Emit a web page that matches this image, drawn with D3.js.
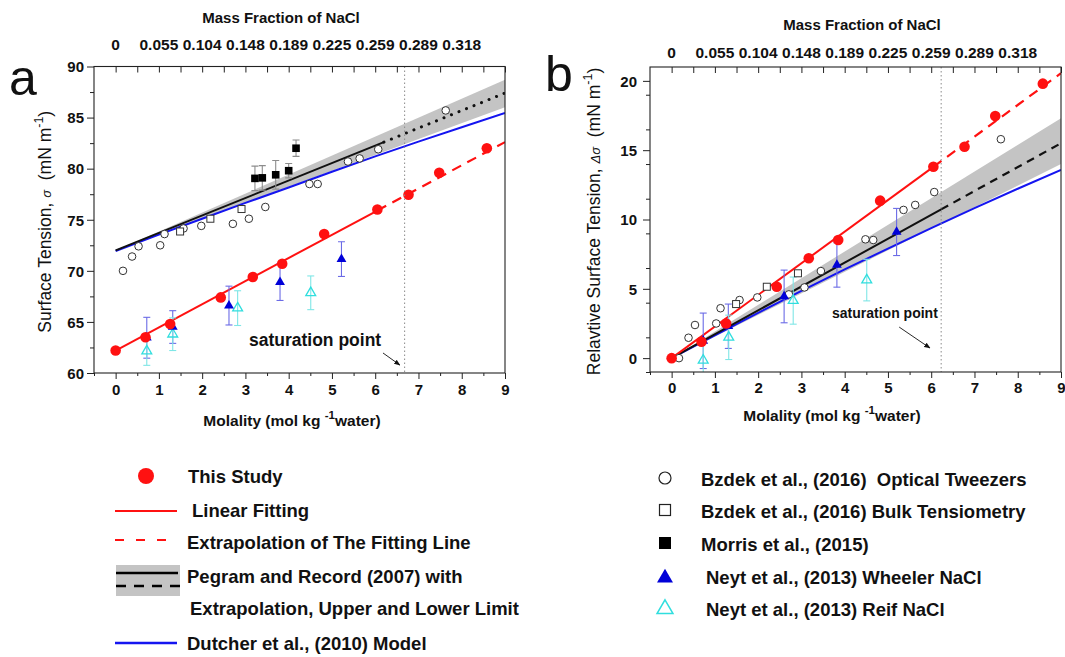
<!DOCTYPE html>
<html>
<head>
<meta charset="utf-8">
<script src="https://cdn.jsdelivr.net/npm/d3@7/dist/d3.min.js"></script>
<style>
  body { margin: 0; background: #fff; }
  text { font-family: "Liberation Sans", Arial, Helvetica, sans-serif; white-space: pre; }
</style>
</head>
<body>
<svg id="fig" width="1065" height="657"></svg>
<script>
// ---------- axis ticks ----------
const molalityTicks = [0, 1, 2, 3, 4, 5, 6, 7, 8, 9];
const massFractionAt = [0, 1, 2, 3, 4, 5, 6, 7, 8];
const massFractionLabels = ["0", "0.055", "0.104", "0.148", "0.189", "0.225", "0.259", "0.289", "0.318"];
const sigmaTicks = [60, 65, 70, 75, 80, 85, 90];
const deltaTicks = [0, 5, 10, 15, 20];

// ---------- This Study ----------
const studyMolality = [0, 0.69, 1.26, 2.43, 3.17, 3.85, 4.82, 6.05, 6.77, 7.48, 8.58];
const studySigma = [62.2, 63.5, 64.8, 67.4, 69.4, 70.7, 73.6, 76.0, 77.45, 79.6, 82.0];
const studyDelta = [0, 1.18, 2.5, 5.15, 7.2, 8.52, 11.36, 13.8, 15.25, 17.47, 19.8];

// linear fit (solid up to last measured point, dashed beyond)
const fitMolality = [0, 6.05, 9];
const fitSigma = [62.2, 75.9, 82.6];
const fitDelta = [0, 13.8, 20.55];

// ---------- Pegram and Record (2007) ----------
const pegramMolalityA = [0, 6.2, 9];
const pegramSigma = [72.0, 82.6, 87.4];
const pegramMolalityB = [0, 6.23, 9];
const pegramDelta = [0, 10.73, 15.5];
const pegramBandMolality = [0, 9];
const pegramSigmaUpper = [72.0, 88.7];
const pegramSigmaLower = [72.0, 86.0];
const pegramDeltaUpper = [0, 17.3];
const pegramDeltaLower = [0, 14.0];

// ---------- Dutcher et al. (2010) model ----------
const dutcherMolality = [0, 1, 2, 3, 4, 5, 6, 7, 8, 9];
const dutcherSigma = [71.94, 73.55, 75.1, 76.65, 78.15, 79.7, 81.2, 82.65, 84.05, 85.45];
const dutcherDelta = [0, 1.65, 3.27, 4.85, 6.4, 7.9, 9.38, 10.82, 12.22, 13.57];

// ---------- Bzdek et al. (2016) optical tweezers ----------
const bzdekOTMolalityA = [0.17, 0.38, 0.53, 1.03, 1.13, 1.57, 1.98, 2.71, 3.08, 3.46, 4.48, 4.67, 5.37, 5.64, 6.07, 7.63];
const bzdekOTSigma = [70.0, 71.4, 72.4, 72.5, 73.6, 74.15, 74.4, 74.6, 75.1, 76.25, 78.5, 78.5, 80.7, 81.0, 81.9, 85.7];
const bzdekOTMolalityB = [0.17, 0.39, 0.54, 1.03, 1.13, 1.57, 1.98, 2.71, 3.07, 3.45, 4.48, 4.66, 5.36, 5.63, 6.07, 7.61];
const bzdekOTDelta = [0, 1.47, 2.39, 2.5, 3.6, 4.19, 4.38, 4.6, 5.1, 6.28, 8.57, 8.52, 10.69, 11.05, 11.98, 15.79];

// ---------- Bzdek et al. (2016) bulk tensiometry ----------
const bzdekBulkMolalityA = [1.49, 2.19, 2.91];
const bzdekBulkSigma = [73.85, 75.1, 76.05];
const bzdekBulkMolalityB = [1.49, 2.2, 2.92];
const bzdekBulkDelta = [3.9, 5.15, 6.12];

// ---------- Morris et al. (2015) ----------
const morrisMolality = [3.22, 3.39, 3.70, 4.00, 4.17];
const morrisSigma = [79.05, 79.1, 79.4, 79.8, 82.0];
const morrisErr = [1.2, 1.2, 1.4, 0.7, 0.8];

// ---------- Neyt et al. (2013) Wheeler NaCl ----------
const wheelerMolalityA = [0.72, 1.32, 2.62, 3.80, 5.22];
const wheelerSigma = [63.45, 64.5, 66.6, 68.9, 71.15];
const wheelerErrA = [2.0, 1.6, 1.9, 1.8, 1.7];
const wheelerMolalityB = [0.73, 1.31, 2.6, 3.82, 5.2];
const wheelerDelta = [1.25, 2.3, 4.45, 6.72, 9.1];
const wheelerErrB = [2.0, 1.6, 1.9, 1.6, 1.7];

// ---------- Neyt et al. (2013) Reif NaCl ----------
const reifMolalityA = [0.72, 1.32, 2.82, 4.51];
const reifSigma = [62.15, 63.8, 66.35, 67.85];
const reifErrA = [1.4, 1.6, 1.7, 1.65];
const reifMolalityB = [0.73, 1.32, 2.81, 4.51];
const reifDelta = [-0.15, 1.5, 4.15, 5.63];
const reifErrB = [1.4, 1.6, 1.7, 1.5];

// ---------- colours ----------
const RED = "#ff1111", BLUE = "#1515f0", DARKBLUE = "#0000d8", CYAN = "#30dede";
const BAND = "#c4c4c4";

const zip = (xs, ys) => xs.map((v, i) => [v, ys[i]]);
const zip3 = (xs, ys, es) => xs.map((v, i) => [v, ys[i], es[i]]);

const svg = d3.select("#fig");

svg.append("defs").append("marker")
  .attr("id", "arrow").attr("viewBox", "0 0 10 10")
  .attr("refX", 9).attr("refY", 5)
  .attr("markerWidth", 7).attr("markerHeight", 7)
  .attr("orient", "auto")
  .append("path").attr("d", "M0,1 L10,5 L0,9 Z").attr("fill", "#111");

const panels = [
  {
    id: "a", letter: "a", letterX: 9, letterY: 95,
    xRange: [94, 505], yRange: [373, 66.5], yDomain: [60, 90],
    yTicks: sigmaTicks, yMinorStep: 2.5, yLabelDx: -10,
    yTitleX: 45, yTitlePre: "Surface Tension, ", yTitleSym: "\u03c3",
    titleX: 281, titleY: 18, topLabelY: 45, bottomLabelY: 390, bottomTitleX: 292, bottomTitleY: 421,
    fitY: fitSigma, pegramX: pegramMolalityA, pegramY: pegramSigma, pegramDash: "0.1,8",
    bandUpper: pegramSigmaUpper, bandLower: pegramSigmaLower, dutcherY: dutcherSigma,
    otX: bzdekOTMolalityA, otY: bzdekOTSigma, bulkX: bzdekBulkMolalityA, bulkY: bzdekBulkSigma,
    morris: true,
    wheeler: zip3(wheelerMolalityA, wheelerSigma, wheelerErrA),
    reif: zip3(reifMolalityA, reifSigma, reifErrA),
    studyY: studySigma,
    saturation: 6.68, satText: [4.61, 63.25], satFont: 17.5,
    arrow: [[6.18, 61.96], [6.57, 60.78]]
  },
  {
    id: "b", letter: "b", letterX: 545, letterY: 91,
    xRange: [650, 1061], yRange: [372, 67], yDomain: [-1, 21],
    yTicks: deltaTicks, yMinorStep: 2.5, yLabelDx: -13,
    yTitleX: 594, yTitlePre: "Relavtive Surface Tension, ", yTitleSym: "\u0394\u03c3",
    titleX: 862, titleY: 25, topLabelY: 53, bottomLabelY: 388, bottomTitleX: 832, bottomTitleY: 416,
    fitY: fitDelta, pegramX: pegramMolalityB, pegramY: pegramDelta, pegramDash: "8,6",
    bandUpper: pegramDeltaUpper, bandLower: pegramDeltaLower, dutcherY: dutcherDelta,
    otX: bzdekOTMolalityB, otY: bzdekOTDelta, bulkX: bzdekBulkMolalityB, bulkY: bzdekBulkDelta,
    morris: false,
    wheeler: zip3(wheelerMolalityB, wheelerDelta, wheelerErrB),
    reif: zip3(reifMolalityB, reifDelta, reifErrB),
    studyY: studyDelta,
    saturation: 6.23, satText: [4.93, 3.25], satFont: 14,
    arrow: [[5.26, 2.24], [5.97, 0.73]]
  }
];

panels.forEach(p => {
  const x = d3.scaleLinear().domain([-0.5, 9]).range(p.xRange);
  const y = d3.scaleLinear().domain(p.yDomain).range(p.yRange);
  const [x0, x1] = p.xRange, [yb, yt] = p.yRange;
  const g = svg.append("g").attr("class", "panel-" + p.id);
  const line = d3.line().x(d => x(d[0])).y(d => y(d[1]));

  g.append("clipPath").attr("id", "clip-" + p.id)
    .append("rect").attr("x", x0).attr("y", yt).attr("width", x1 - x0).attr("height", yb - yt);
  const plot = g.append("g").attr("clip-path", `url(#clip-${p.id})`);

  // Pegram band (upper and lower limit)
  const band = pegramBandMolality.map((m, i) => ({ m, lo: p.bandLower[i], hi: p.bandUpper[i] }));
  plot.append("path").datum(band)
    .attr("d", d3.area().x(d => x(d.m)).y0(d => y(d.lo)).y1(d => y(d.hi)))
    .attr("fill", BAND);

  // Dutcher model
  plot.append("path").datum(zip(dutcherMolality, p.dutcherY))
    .attr("d", line).attr("fill", "none").attr("stroke", BLUE).attr("stroke-width", 2);

  // Pegram solid part and extrapolation
  const peg = zip(p.pegramX, p.pegramY);
  plot.append("path").datum(peg.slice(0, 2))
    .attr("d", line).attr("fill", "none").attr("stroke", "#111").attr("stroke-width", 2);
  plot.append("path").datum(peg.slice(1))
    .attr("d", line).attr("fill", "none").attr("stroke", "#111").attr("stroke-width", p.id === "a" ? 3 : 2.2)
    .attr("stroke-linecap", p.id === "a" ? "round" : "butt")
    .attr("stroke-dasharray", p.pegramDash);

  // linear fit of this study and extrapolation
  const fit = zip(fitMolality, p.fitY);
  plot.append("path").datum(fit.slice(0, 2))
    .attr("d", line).attr("fill", "none").attr("stroke", RED).attr("stroke-width", 2);
  plot.append("path").datum(fit.slice(1))
    .attr("d", line).attr("fill", "none").attr("stroke", RED).attr("stroke-width", 2.2)
    .attr("stroke-dasharray", "10,7");

  // saturation line
  g.append("line")
    .attr("x1", x(p.saturation)).attr("x2", x(p.saturation)).attr("y1", yt).attr("y2", yb)
    .attr("stroke", "#8a8a8a").attr("stroke-width", 1).attr("stroke-dasharray", "1.5,2.5");

  // error bars
  const errBars = (data, color) => {
    const eb = plot.append("g").attr("stroke", color).attr("stroke-width", 1.1).attr("fill", "none");
    data.forEach(([m, v, e]) => {
      eb.append("line").attr("x1", x(m)).attr("x2", x(m)).attr("y1", y(v - e)).attr("y2", y(v + e));
      [v - e, v + e].forEach(c => eb.append("line")
        .attr("x1", x(m) - 3.5).attr("x2", x(m) + 3.5).attr("y1", y(c)).attr("y2", y(c)));
    });
  };
  errBars(p.wheeler, "#6b6be6");
  errBars(p.reif, "#7fe6e6");
  if (p.morris) errBars(zip3(morrisMolality, morrisSigma, morrisErr), "#8c8c8c");

  // open circles
  plot.append("g").selectAll("circle").data(zip(p.otX, p.otY)).join("circle")
    .attr("cx", d => x(d[0])).attr("cy", d => y(d[1])).attr("r", 3.8)
    .attr("fill", "#fff").attr("stroke", "#333").attr("stroke-width", 1);
  // open squares
  plot.append("g").selectAll("rect").data(zip(p.bulkX, p.bulkY)).join("rect")
    .attr("x", d => x(d[0]) - 3.5).attr("y", d => y(d[1]) - 3.5).attr("width", 7).attr("height", 7)
    .attr("fill", "#fff").attr("stroke", "#333").attr("stroke-width", 1);
  // Morris filled squares
  if (p.morris) {
    plot.append("g").selectAll("rect").data(zip(morrisMolality, morrisSigma)).join("rect")
      .attr("x", d => x(d[0]) - 3.8).attr("y", d => y(d[1]) - 3.8).attr("width", 7.6).attr("height", 7.6)
      .attr("fill", "#000");
  }
  const tri = d3.symbol().type(d3.symbolTriangle).size(42);
  // Neyt Reif (open triangles)
  plot.append("g").selectAll("path").data(p.reif).join("path")
    .attr("d", tri).attr("transform", d => `translate(${x(d[0])},${y(d[1])})`)
    .attr("fill", "none").attr("stroke", CYAN).attr("stroke-width", 1.3);
  // Neyt Wheeler (filled triangles)
  plot.append("g").selectAll("path").data(p.wheeler).join("path")
    .attr("d", tri).attr("transform", d => `translate(${x(d[0])},${y(d[1])})`)
    .attr("fill", DARKBLUE);
  // This study
  plot.append("g").selectAll("circle").data(zip(studyMolality, p.studyY)).join("circle")
    .attr("cx", d => x(d[0])).attr("cy", d => y(d[1])).attr("r", 5.3)
    .attr("fill", RED);

  // saturation annotation
  g.append("text").attr("x", x(p.satText[0])).attr("y", y(p.satText[1]))
    .attr("text-anchor", "middle").attr("dy", "0.35em")
    .attr("font-weight", "bold").attr("font-size", p.satFont).attr("fill", "#111")
    .text("saturation point");
  g.append("line")
    .attr("x1", x(p.arrow[0][0])).attr("y1", y(p.arrow[0][1]))
    .attr("x2", x(p.arrow[1][0])).attr("y2", y(p.arrow[1][1]))
    .attr("stroke", "#111").attr("stroke-width", 0.9).attr("marker-end", "url(#arrow)");

  // frame
  g.append("rect").attr("x", x0).attr("y", yt).attr("width", x1 - x0).attr("height", yb - yt)
    .attr("fill", "none").attr("stroke", "#222").attr("stroke-width", 1.1);

  // bottom axis
  const halves = d3.range(-0.5, 9.01, 0.5).filter(v => !Number.isInteger(v));
  const bx = g.append("g").attr("transform", `translate(0,${yb})`);
  bx.call(d3.axisBottom(x).tickValues(halves).tickSize(3).tickFormat(""));
  const bxMajor = g.append("g").attr("transform", `translate(0,${yb})`);
  bxMajor.call(d3.axisBottom(x).tickValues(molalityTicks).tickSize(6).tickFormat(d3.format("d")));
  bxMajor.selectAll("text").attr("y", p.bottomLabelY - yb).attr("dy", "0.35em")
    .attr("font-size", 15).attr("font-weight", "bold").attr("fill", "#111");

  // top axis: inward ticks every 0.5 with mass-fraction labels above
  const tx = g.append("g").attr("transform", `translate(0,${yt})`);
  tx.call(d3.axisTop(x).tickValues(d3.range(0, 9.01, 0.5)).tickSize(-6).tickFormat(""));
  g.append("g").selectAll("text").data(massFractionAt).join("text")
    .attr("x", d => x(d)).attr("y", p.topLabelY).attr("dy", "0.35em")
    .attr("text-anchor", "middle").attr("font-size", 15.5).attr("font-weight", "bold").attr("fill", "#111")
    .text((d, i) => massFractionLabels[i]);
  g.append("text").attr("x", p.titleX).attr("y", p.titleY).attr("dy", "0.35em")
    .attr("text-anchor", "middle").attr("font-size", 15).attr("font-weight", "bold").attr("fill", "#111")
    .text("Mass Fraction of NaCl");

  // left axis
  const yMinor = d3.range(p.yDomain[0], p.yDomain[1] + 0.01, p.yMinorStep).filter(v => !p.yTicks.includes(v));
  const ly = g.append("g").attr("transform", `translate(${x0},0)`);
  ly.call(d3.axisLeft(y).tickValues(yMinor).tickSize(4).tickFormat(""));
  const lyMajor = g.append("g").attr("transform", `translate(${x0},0)`);
  lyMajor.call(d3.axisLeft(y).tickValues(p.yTicks).tickSize(7).tickFormat(d3.format("d")));
  lyMajor.selectAll("text").attr("x", p.yLabelDx).attr("dy", "0.35em")
    .attr("font-size", 15).attr("font-weight", "bold").attr("fill", "#111");

  g.selectAll(".domain").remove();
  g.selectAll(".tick line").attr("stroke", "#222").attr("stroke-width", 1);

  // axis titles
  const bt = g.append("text").attr("x", p.bottomTitleX).attr("y", p.bottomTitleY).attr("dy", "0.35em")
    .attr("text-anchor", "middle").attr("font-size", 15.5).attr("font-weight", "bold").attr("fill", "#111");
  bt.append("tspan").text("Molality (mol kg ");
  bt.append("tspan").attr("dy", -7).attr("font-size", 11.5).text("-1");
  bt.append("tspan").attr("dy", 7).text("water)");

  const yc = (yt + yb) / 2;
  const lt = g.append("text").attr("transform", `translate(${p.yTitleX},${yc + 2}) rotate(-90)`)
    .attr("text-anchor", "middle").attr("dy", "0.35em").attr("font-size", 17.5).attr("fill", "#111");
  lt.append("tspan").text(p.yTitlePre);
  lt.append("tspan").attr("font-size", 13).attr("font-style", "italic").text(p.yTitleSym);
  lt.append("tspan").text("  (mN m");
  lt.append("tspan").attr("dy", -8).attr("font-size", 12.5).text("-1");
  lt.append("tspan").attr("dy", 8).text(")");

  // panel letter
  svg.append("text").attr("x", p.letterX).attr("y", p.letterY)
    .attr("font-size", 50).attr("fill", "#111").text(p.letter);
});

// ---------- legends ----------
const legendFont = 18.5;
const L = svg.append("g").attr("class", "legend-left")
  .attr("font-weight", "bold").attr("font-size", legendFont).attr("fill", "#111");

L.append("circle").attr("cx", 146).attr("cy", 476).attr("r", 8).attr("fill", RED);
L.append("text").attr("x", 188).attr("y", 477).attr("dy", "0.35em").text("This Study");

L.append("line").attr("x1", 115).attr("x2", 177).attr("y1", 511).attr("y2", 511)
  .attr("stroke", RED).attr("stroke-width", 2.2);
L.append("text").attr("x", 192).attr("y", 511).attr("dy", "0.35em").text("Linear Fitting");

L.append("line").attr("x1", 115).attr("x2", 178).attr("y1", 540).attr("y2", 540)
  .attr("stroke", RED).attr("stroke-width", 2.2).attr("stroke-dasharray", "9,12");
L.append("text").attr("x", 187).attr("y", 543).attr("dy", "0.35em").text("Extrapolation of The Fitting Line");

L.append("rect").attr("x", 116).attr("y", 565).attr("width", 64).attr("height", 31).attr("fill", BAND);
L.append("line").attr("x1", 116).attr("x2", 178).attr("y1", 573).attr("y2", 573)
  .attr("stroke", "#000").attr("stroke-width", 2.4);
L.append("line").attr("x1", 116).attr("x2", 180).attr("y1", 586).attr("y2", 586)
  .attr("stroke", "#000").attr("stroke-width", 2.4).attr("stroke-dasharray", "10,8");
L.append("text").attr("x", 187).attr("y", 577).attr("dy", "0.35em").text("Pegram and Record (2007) with");
L.append("text").attr("x", 190).attr("y", 609).attr("dy", "0.35em").text("Extrapolation, Upper and Lower Limit");

L.append("line").attr("x1", 115).attr("x2", 177).attr("y1", 643).attr("y2", 643)
  .attr("stroke", BLUE).attr("stroke-width", 2.4);
L.append("text").attr("x", 187).attr("y", 644).attr("dy", "0.35em").text("Dutcher et al., (2010) Model");

const R = svg.append("g").attr("class", "legend-right")
  .attr("font-weight", "bold").attr("font-size", legendFont).attr("fill", "#111");
R.append("circle").attr("cx", 665).attr("cy", 478).attr("r", 6)
  .attr("fill", "#fff").attr("stroke", "#222").attr("stroke-width", 1.2);
R.append("text").attr("x", 701).attr("y", 480).attr("dy", "0.35em").text("Bzdek et al., (2016)  Optical Tweezers");
R.append("rect").attr("x", 659.5).attr("y", 504.5).attr("width", 11).attr("height", 11)
  .attr("fill", "#fff").attr("stroke", "#222").attr("stroke-width", 1.2);
R.append("text").attr("x", 701).attr("y", 512).attr("dy", "0.35em").text("Bzdek et al., (2016) Bulk Tensiometry");
R.append("rect").attr("x", 659).attr("y", 537).attr("width", 12).attr("height", 12).attr("fill", "#000");
R.append("text").attr("x", 701).attr("y", 545).attr("dy", "0.35em").text("Morris et al., (2015)");
const legTri = d3.symbol().type(d3.symbolTriangle).size(110);
R.append("path").attr("d", legTri).attr("transform", "translate(665,578)").attr("fill", DARKBLUE);
R.append("text").attr("x", 706).attr("y", 578).attr("dy", "0.35em").text("Neyt et al., (2013) Wheeler NaCl");
R.append("path").attr("d", legTri).attr("transform", "translate(665,609)")
  .attr("fill", "none").attr("stroke", CYAN).attr("stroke-width", 1.5);
R.append("text").attr("x", 706).attr("y", 610).attr("dy", "0.35em").text("Neyt et al., (2013) Reif NaCl");
</script>
</body>
</html>
